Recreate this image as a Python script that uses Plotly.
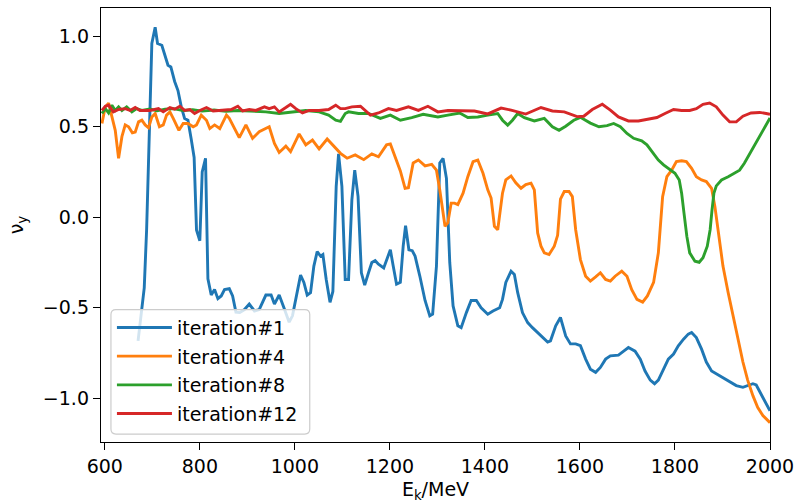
import plotly.graph_objects as go

# iteration #1
e_it1 = [670, 683, 688, 699, 706, 711, 720, 727, 733, 739, 747, 754, 761, 768, 775, 782, 788,
         793, 800, 805, 812, 817, 824, 831, 838, 845, 852, 862, 869, 876, 884, 894, 904, 915,
         925, 939, 950, 957, 967, 977, 988, 995, 1002, 1012, 1019, 1026, 1033, 1040, 1047,
         1054, 1059, 1066, 1074, 1080, 1087, 1092, 1099, 1106, 1113, 1120, 1126, 1133, 1140,
         1147, 1155, 1162, 1169, 1176, 1187, 1193, 1201, 1207, 1214, 1222, 1228, 1233, 1240,
         1247, 1253, 1263, 1274, 1284, 1290, 1298, 1305, 1312, 1319, 1326, 1333, 1343, 1350,
         1361, 1371, 1382, 1392, 1406, 1417, 1431, 1437, 1444, 1455, 1462, 1469, 1479, 1490,
         1500, 1511, 1521, 1532, 1538, 1549, 1559, 1570, 1580, 1591, 1601, 1612, 1622, 1633,
         1643, 1654, 1664, 1681, 1692, 1702, 1716, 1727, 1737, 1748, 1757, 1765, 1776, 1786,
         1797, 1807, 1818, 1828, 1835, 1845, 1856, 1866, 1877, 1887, 1901, 1915, 1929, 1943,
         1953, 1964, 1971, 1981, 1992, 2000]
nu_it1 = [-0.683, -0.39, -0.07, 0.96, 1.05, 0.96, 0.95, 0.885, 0.84, 0.83, 0.75, 0.70, 0.61,
          0.545, 0.536, 0.43, 0.33, -0.07, -0.13, 0.25, 0.325, -0.34, -0.43, -0.40, -0.45,
          -0.435, -0.40, -0.395, -0.435, -0.525, -0.527, -0.51, -0.48, -0.518, -0.51, -0.43,
          -0.43, -0.48, -0.43, -0.50, -0.58, -0.545, -0.46, -0.32, -0.36, -0.43, -0.417,
          -0.27, -0.19, -0.215, -0.206, -0.344, -0.47, -0.41, 0.17, 0.35, 0.17, -0.344,
          -0.344, 0.096, 0.26, 0.115, -0.307, -0.375, -0.307, -0.25, -0.24, -0.26, -0.28,
          -0.24, -0.18, -0.27, -0.37, -0.36, -0.16, -0.047, -0.18, -0.185, -0.215, -0.325,
          -0.46, -0.545, -0.536, -0.27, 0.30, 0.325, 0.215, -0.25, -0.49, -0.60, -0.61,
          -0.527, -0.46, -0.46, -0.50, -0.536, -0.518, -0.50, -0.454, -0.36, -0.298, -0.316,
          -0.417, -0.527, -0.582, -0.61, -0.637, -0.665, -0.69, -0.683, -0.60, -0.554,
          -0.656, -0.70, -0.70, -0.71, -0.784, -0.84, -0.857, -0.83, -0.784, -0.766, -0.762,
          -0.74, -0.72, -0.74, -0.784, -0.85, -0.90, -0.92, -0.90, -0.84, -0.784, -0.756,
          -0.71, -0.674, -0.646, -0.637, -0.665, -0.729, -0.80, -0.85, -0.866, -0.885, -0.91,
          -0.93, -0.94, -0.93, -0.92, -0.927, -0.976, -1.03, -1.07]

# iteration #4
e_it4 = [594, 601, 608, 615, 622, 629, 636, 643, 650, 658, 664, 671, 678, 685, 692, 699, 706,
         715, 723, 730, 737, 744, 756, 765, 775, 786, 793, 803, 814, 821, 831, 842, 856, 862,
         873, 883, 897, 911, 925, 946, 957, 967, 981, 991, 1009, 1023, 1037, 1051, 1068,
         1082, 1096, 1110, 1127, 1145, 1162, 1176, 1193, 1201, 1211, 1222, 1232, 1239, 1249,
         1260, 1274, 1288, 1298, 1305, 1316, 1322, 1329, 1336, 1343, 1354, 1364, 1375, 1385,
         1396, 1406, 1413, 1420, 1427, 1437, 1444, 1455, 1465, 1476, 1486, 1497, 1504, 1511,
         1518, 1525, 1535, 1546, 1553, 1559, 1567, 1577, 1584, 1591, 1601, 1612, 1622, 1633,
         1643, 1654, 1664, 1674, 1688, 1699, 1709, 1720, 1732, 1742, 1755, 1765, 1774, 1783,
         1793, 1803, 1814, 1824, 1835, 1845, 1856, 1866, 1877, 1884, 1891, 1901, 1912, 1922,
         1932, 1943, 1953, 1964, 1974, 1985, 2000]
nu_it4 = [0.518, 0.61, 0.63, 0.555, 0.48, 0.325, 0.445, 0.51, 0.50, 0.466, 0.47, 0.527, 0.536,
          0.51, 0.494, 0.554, 0.573, 0.50, 0.51, 0.564, 0.582, 0.546, 0.48, 0.518, 0.518,
          0.50, 0.51, 0.564, 0.536, 0.49, 0.51, 0.49, 0.564, 0.546, 0.49, 0.44, 0.51, 0.436,
          0.472, 0.50, 0.408, 0.358, 0.393, 0.362, 0.46, 0.40, 0.426, 0.377, 0.432, 0.39,
          0.353, 0.326, 0.344, 0.318, 0.35, 0.334, 0.40, 0.405, 0.334, 0.256, 0.16, 0.163,
          0.30, 0.316, 0.284, 0.292, 0.26, 0.151, -0.05, -0.03, 0.078, 0.078, 0.07, 0.133,
          0.224, 0.307, 0.316, 0.243, 0.151, 0.106, -0.05, -0.069, 0.133, 0.206, 0.228, 0.19,
          0.16, 0.18, 0.188, 0.151, -0.087, -0.16, -0.197, -0.206, -0.16, -0.1, 0.1, 0.142,
          0.142, 0.114, -0.069, -0.234, -0.326, -0.353, -0.33, -0.307, -0.344, -0.353,
          -0.326, -0.298, -0.326, -0.40, -0.454, -0.469, -0.435, -0.36, -0.197, 0.114, 0.224,
          0.26, 0.307, 0.312, 0.307, 0.27, 0.224, 0.206, 0.197, 0.16, 0.06, -0.087, -0.27,
          -0.417, -0.546, -0.674, -0.80, -0.90, -0.986, -1.05, -1.096, -1.135]

# iteration #8
e_it8 = [594, 601, 608, 615, 622, 629, 636, 646, 657, 667, 678, 695, 710, 727, 744, 765, 785,
         805, 830, 855, 880, 905, 939, 967, 995, 1023, 1051, 1071, 1086, 1096, 1106, 1113,
         1134, 1155, 1180, 1201, 1222, 1246, 1270, 1291, 1301, 1322, 1347, 1364, 1385, 1406,
         1427, 1437, 1448, 1458, 1469, 1483, 1504, 1525, 1542, 1556, 1570, 1587, 1601, 1622,
         1640, 1657, 1671, 1685, 1699, 1713, 1730, 1741, 1755, 1765, 1776, 1790, 1800, 1809,
         1814, 1819, 1825, 1831, 1842, 1851, 1859, 1868, 1874, 1878, 1882, 1887, 1898, 1912,
         1926, 1936, 1946, 1960, 1974, 1988, 2000]
nu_it8 = [0.573, 0.60, 0.576, 0.619, 0.59, 0.61, 0.59, 0.61, 0.582, 0.60, 0.59, 0.598, 0.588,
          0.597, 0.60, 0.59, 0.594, 0.586, 0.592, 0.585, 0.59, 0.586, 0.582, 0.573, 0.582,
          0.59, 0.582, 0.564, 0.536, 0.53, 0.573, 0.582, 0.573, 0.573, 0.546, 0.564, 0.536,
          0.55, 0.569, 0.558, 0.554, 0.564, 0.576, 0.551, 0.554, 0.564, 0.573, 0.536, 0.509,
          0.536, 0.573, 0.550, 0.532, 0.546, 0.50, 0.48, 0.503, 0.536, 0.552, 0.52, 0.50,
          0.506, 0.518, 0.50, 0.463, 0.436, 0.422, 0.40, 0.353, 0.316, 0.289, 0.265, 0.243,
          0.206, 0.133, 0.023, -0.106, -0.197, -0.243, -0.249, -0.224, -0.16, -0.069, 0.041,
          0.133, 0.173, 0.206, 0.224, 0.243, 0.26, 0.298, 0.362, 0.426, 0.49, 0.548]

# iteration #12
e_it12 = [594, 601, 608, 618, 629, 643, 653, 664, 674, 695, 713, 723, 737, 747, 758, 768, 779,
          789, 800, 814, 828, 848, 866, 880, 890, 904, 918, 936, 946, 957, 967, 981, 991,
          1002, 1016, 1030, 1051, 1071, 1086, 1096, 1106, 1120, 1138, 1159, 1176, 1197, 1214,
          1239, 1260, 1280, 1301, 1322, 1350, 1378, 1406, 1434, 1455, 1486, 1518, 1542, 1567,
          1594, 1608, 1626, 1647, 1664, 1681, 1702, 1723, 1744, 1762, 1779, 1797, 1814, 1831,
          1845, 1859, 1873, 1887, 1901, 1915, 1929, 1943, 1960, 1978, 1992, 2000]
nu_it12 = [0.59, 0.613, 0.619, 0.582, 0.595, 0.60, 0.59, 0.606, 0.59, 0.59, 0.60, 0.582, 0.606,
           0.597, 0.613, 0.59, 0.595, 0.573, 0.59, 0.606, 0.587, 0.59, 0.595, 0.613, 0.587,
           0.595, 0.59, 0.61, 0.60, 0.61, 0.582, 0.606, 0.624, 0.60, 0.576, 0.59, 0.59, 0.595,
           0.619, 0.60, 0.60, 0.61, 0.613, 0.564, 0.576, 0.60, 0.59, 0.61, 0.59, 0.613, 0.582,
           0.59, 0.59, 0.587, 0.571, 0.603, 0.592, 0.570, 0.606, 0.587, 0.582, 0.556, 0.558,
           0.595, 0.624, 0.592, 0.554, 0.532, 0.532, 0.54, 0.551, 0.573, 0.595, 0.59, 0.59,
           0.60, 0.624, 0.631, 0.61, 0.564, 0.527, 0.527, 0.558, 0.576, 0.579, 0.573, 0.569]

series = [
    ("iteration#1", e_it1, nu_it1, "#1f77b4"),
    ("iteration#4", e_it4, nu_it4, "#ff7f0e"),
    ("iteration#8", e_it8, nu_it8, "#2ca02c"),
    ("iteration#12", e_it12, nu_it12, "#d62728"),
]

FONT = "DejaVu Sans"
W, H = 801, 503
ML, MR, MT, MB = 101, 27, 7, 60
PW, PH = W - ML - MR, H - MT - MB


def px_to_paper(px, py):
    return (px - ML) / PW, (H - MB - py) / PH


fig = go.Figure()
for name, xs, ys, color in series:
    fig.add_trace(go.Scatter(
        x=xs, y=ys, mode="lines", name=name, legendgroup=name,
        line=dict(color=color, width=2.9),
    ))

axis_common = dict(
    showline=True, linecolor="black", linewidth=1.4, mirror=True,
    ticks="outside", ticklen=7, tickwidth=1.4, tickcolor="black",
    showgrid=False, zeroline=False,
    tickfont=dict(family=FONT, size=19, color="black"),
)

# rounded, semi-transparent frame behind the legend entries
bx0, by0, bx1, by1, rad = 111, 310, 311, 435, 5
rx, ry = rad / PW, rad / PH
x0, y1 = px_to_paper(bx0, by0)
x1, y0 = px_to_paper(bx1, by1)
frame_path = (
    f"M{x0 + rx},{y0} L{x1 - rx},{y0} Q{x1},{y0} {x1},{y0 + ry} "
    f"L{x1},{y1 - ry} Q{x1},{y1} {x1 - rx},{y1} "
    f"L{x0 + rx},{y1} Q{x0},{y1} {x0},{y1 - ry} "
    f"L{x0},{y0 + ry} Q{x0},{y0} {x0 + rx},{y0} Z"
)
fig.add_shape(type="path", path=frame_path, xref="paper", yref="paper",
              fillcolor="rgba(255,255,255,0.8)", line=dict(color="#cccccc", width=1.2),
              layer="above")

lx, ly = px_to_paper(bx0 + 1, 309)
fig.update_layout(
    width=W, height=H,
    margin=dict(l=ML, r=MR, t=MT, b=MB),
    paper_bgcolor="white", plot_bgcolor="white",
    font=dict(family=FONT, size=19, color="black"),
    xaxis=dict(range=[592, 2000], tick0=600, dtick=200, tickformat="d",
               title=dict(text="E<sub>k</sub>/MeV", font=dict(family=FONT, size=19),
                          standoff=6),
               **axis_common),
    yaxis=dict(range=[-1.242, 1.156], tick0=0, dtick=0.5, tickformat=".1f",
               title=dict(text="ν<sub>y</sub>", font=dict(family=FONT, size=19),
                          standoff=14),
               **axis_common),
    legend=dict(
        x=lx, y=ly, xanchor="left", yanchor="top",
        bgcolor="rgba(0,0,0,0)", borderwidth=0,
        font=dict(family=FONT, size=19, color="black"),
        tracegroupgap=1, itemwidth=55,
    ),
)

fig.write_html("out.html")
